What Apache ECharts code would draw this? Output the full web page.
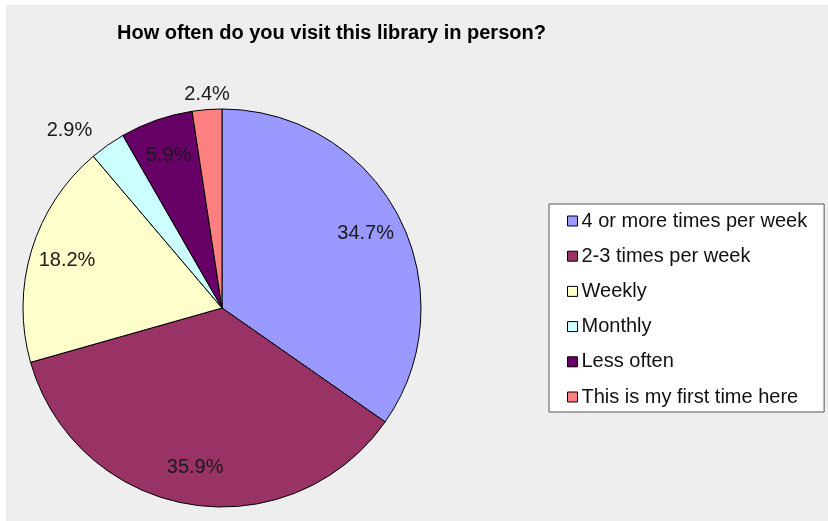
<!DOCTYPE html>
<html>
<head>
<meta charset="utf-8">
<script src="https://cdn.jsdelivr.net/npm/echarts@6/dist/echarts.min.js"></script>
<style>
html,body{margin:0;padding:0;background:#ffffff;}
#chart{position:absolute;left:6px;top:5px;width:822px;height:516px;}
</style>
</head>
<body>
<div id="chart"></div>
<script>
const titleText = 'How often do you visit this library in person?';
const categories = ['4 or more times per week', '2-3 times per week', 'Weekly', 'Monthly', 'Less often', 'This is my first time here'];
const values = [34.7, 35.9, 18.2, 2.9, 5.9, 2.4];
const colors = ['#9999ff', '#993366', '#ffffcc', '#ccffff', '#660066', '#ff8080'];
const outsideSet = [false, false, false, true, false, true];

const chart = echarts.init(document.getElementById('chart'), null, {renderer: 'canvas'});
const fontFam = '"Liberation Sans", Arial, sans-serif';

const pieData = categories.map((c, i) => ({name: c, value: values[i], itemStyle: {color: colors[i]}}));
const labelData = categories.map((c, i) => {
  const d = {name: c, value: values[i]};
  if (outsideSet[i]) {
    d.label = {position: 'outside'};
    d.labelLine = {show: false, length: i === 3 ? 18 : 15, length2: 0};
  }
  return d;
});

chart.setOption({
  backgroundColor: '#eeeeee',
  animation: false,
  color: colors,
  title: {
    text: titleText,
    left: 111,
    top: 18,
    padding: 0,
    textStyle: {fontFamily: fontFam, fontSize: 20, fontWeight: 'bold', color: '#000000'}
  },
  legend: {
    orient: 'vertical',
    left: 543,
    top: 199,
    data: categories,
    backgroundColor: '#ffffff',
    borderColor: '#555555',
    borderWidth: 1,
    padding: [7, 17, 5, 18],
    itemWidth: 10,
    itemHeight: 10,
    itemGap: 15.2,
    icon: 'rect',
    itemStyle: {borderColor: '#000000', borderWidth: 1},
    textStyle: {fontFamily: fontFam, fontSize: 20, lineHeight: 20, color: '#111111', padding: [0, 0, 0, -1]},
    selectedMode: false
  },
  series: [
    {
      type: 'pie',
      center: [216, 303],
      radius: [0, 199],
      startAngle: 90,
      clockwise: true,
      silent: true,
      label: {show: false},
      labelLine: {show: false},
      itemStyle: {borderColor: '#000000', borderWidth: 1},
      data: pieData
    },
    {
      type: 'pie',
      center: [216, 303],
      radius: [119, 199],
      startAngle: 90,
      clockwise: true,
      silent: true,
      itemStyle: {color: 'rgba(0,0,0,0)', borderWidth: 0},
      label: {
        show: true,
        position: 'inside',
        formatter: p => p.value.toFixed(1) + '%',
        fontFamily: fontFam,
        fontSize: 20,
        color: '#1a1a1a'
      },
      labelLayout: function (params) {
        if (params.dataIndex === 5) { return {dx: 29}; }
        return {};
      },
      data: labelData
    }
  ]
});
</script>
</body>
</html>
